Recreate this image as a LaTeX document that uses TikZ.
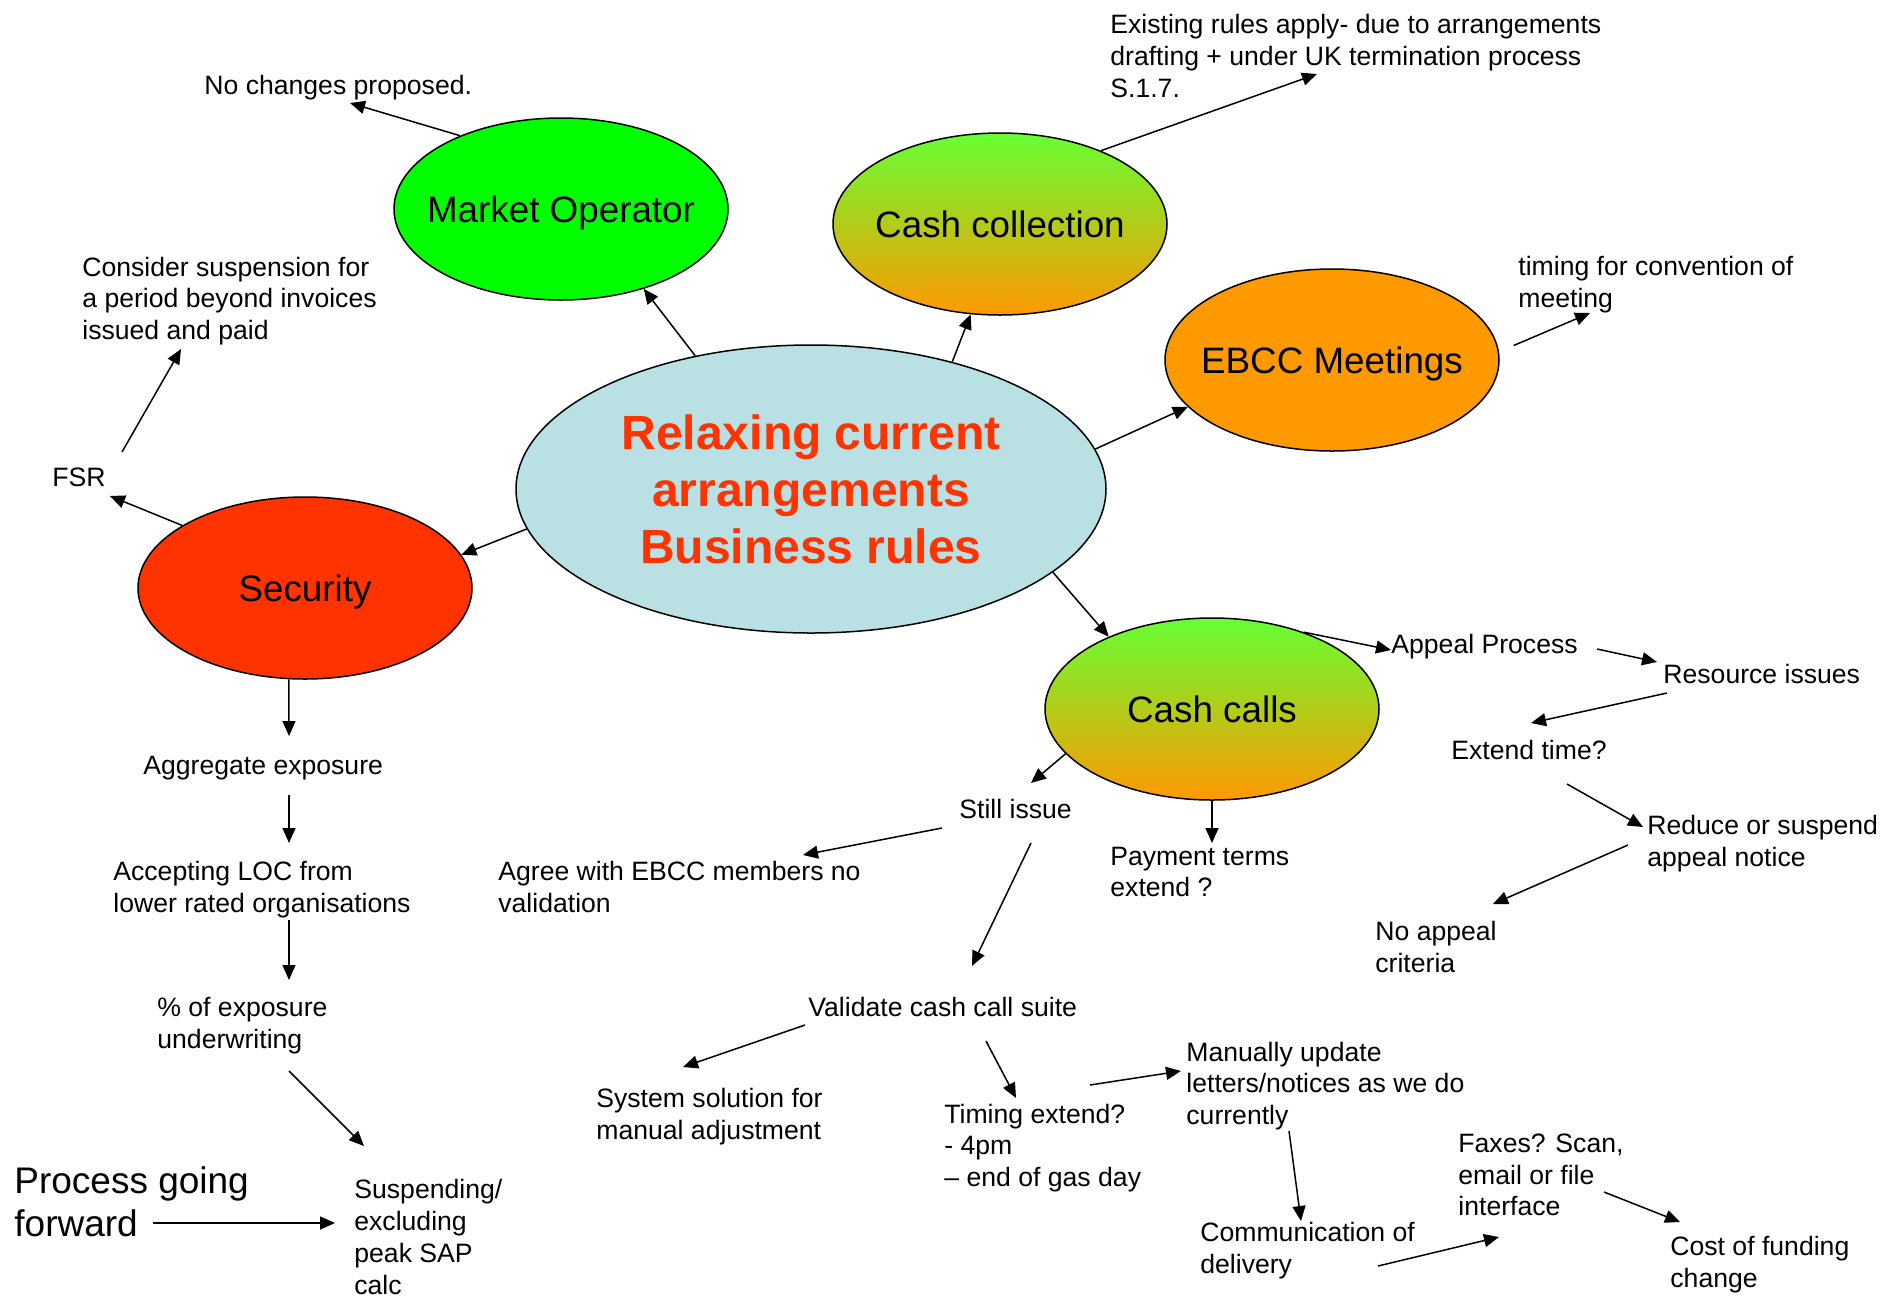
\documentclass[tikz,border=0pt]{standalone}
\usepackage{fontspec}
\setmainfont{Liberation Sans}
\usetikzlibrary{positioning,arrows.meta,shapes.geometric}
\definecolor{topgreen}{HTML}{66FF33}
\definecolor{amber}{HTML}{FF9900}
\definecolor{brightgreen}{HTML}{00FF00}
\definecolor{flame}{HTML}{FF3300}
\definecolor{paleblue}{HTML}{B9E0E3}
\tikzset{
  bubble/.style={ellipse, draw=black, line width=0.75pt, minimum width=167pt,
    minimum height=91pt, inner xsep=-15pt, inner ysep=0pt, text depth=0pt,
    font=\fontsize{18.4}{22}\selectfont},
  blend/.style={top color=topgreen, bottom color=amber},
  note/.style={anchor=west, inner sep=0pt, align=left,
    font=\fontsize{13.3}{15.9}\selectfont},
  arr/.style={-{Triangle[length=7.5pt,width=6.5pt]}, line width=0.75pt},
}
\begin{document}
\begin{tikzpicture}[x=0.5pt,y=-0.5pt]
      \useasboundingbox (0,0) rectangle (1880,1297);
      \node[bubble, fill=paleblue, minimum width=295pt, minimum height=144pt, inner sep=0pt,
        text depth=, font=\fontsize{24}{28.5}\selectfont\bfseries, text=flame, align=center]
        (hub) at (811,489) {Relaxing current\\arrangements\\Business rules};
      \node[bubble, fill=brightgreen] (market) at (561,209) {Market Operator};
      \node[bubble, blend] (cashcoll) at (1000,224) {Cash collection};
      \node[bubble, fill=amber] (ebcc) at (1332,360) {EBCC Meetings};
      \node[bubble, fill=flame] (security) at (305,588) {Security};
      \node[bubble, blend] (cashcalls) at (1212,709) {Cash calls};

      \node[note] (nochange) at (204,88) {No changes proposed.};
      \node[note] (existing) at (1110,56) {Existing rules apply- due to arrangements\\drafting + under UK termination process\\S.1.7.};
      \node[note] (suspend) at (82,301) {Consider suspension for\\a period beyond invoices\\issued and paid};
      \node[note] (timing) at (1518,285) {timing for convention of\\meeting};
      \node[note] (fsr) at (52,477) {FSR};
      \node[note] (appeal) at (1391,647) {Appeal Process};
      \node[note] (resource) at (1663,674) {Resource issues};
      \node[note] (extend) at (1451,750) {Extend time?};
      \node[note] (reduce) at (1647,844) {Reduce or suspend\\appeal notice};
      \node[note] (noappeal) at (1375,947) {No appeal\\criteria};
      \node[note] (aggregate) at (143,768) {Aggregate exposure};
      \node[note] (loc) at (113,890) {Accepting LOC from\\lower rated organisations};
      \node[note] (percent) at (157,1026) {\% of exposure\\underwriting};
      \node[note] (sap) at (354,1237) {Suspending/\\excluding\\peak SAP\\calc};
      \node[note, font=\fontsize{18.5}{21.6}\selectfont] (forward) at (14,1202) {Process going\\forward};
      \node[note] (stillissue) at (959,809) {Still issue};
      \node[note] (agree) at (498,887) {Agree with EBCC members no\\validation};
      \node[note] (payment) at (1110,872) {Payment terms\\extend ?};
      \node[note] (validate) at (808,1007) {Validate cash call suite};
      \node[note] (system) at (596,1117) {System solution for\\manual adjustment};
      \node[note] (timeext) at (944,1148) {Timing extend?\\- 4pm\\– end of gas day};
      \node[note] (manual) at (1186,1086) {Manually update\\letters/notices as we do\\currently};
      \node[note] (comms) at (1200,1251) {Communication of\\delivery};
      \node[note] (faxes) at (1458,1175) {Faxes? Scan,\\email or file\\interface};
      \node[note] (cost) at (1670,1265) {Cost of funding\\change};

      \draw[arr] (hub.131) -- (market.-44);
      \draw[arr] (hub.42) -- (cashcoll.-108);
      \draw[arr] (hub.8) -- (ebcc.198);
      \draw[arr] (hub.188) -- (security.12);
      \draw[arr] (hub.-19) -- (cashcalls.145);
      \draw[arr] (market.144) -- ([shift={(146,15)}]nochange.west);
      \draw[arr] (cashcoll.36) -- ([shift={(207,18)}]existing.west);
      \draw[arr] ([shift={(16,0)}]ebcc.5) -- ([shift={(72,28)}]timing.west);
      \draw[arr] (security.153) -- ([shift={(58,19)}]fsr.west);
      \draw[arr] ([shift={(70,-25)}]fsr.west) -- ([shift={(99,48)}]suspend.west);
      \draw[arr] (security.-100) -- ([shift={(146,-32)}]aggregate.west);
      \draw[arr] ([shift={(146,27)}]aggregate.west) -- ([shift={(176,-47)}]loc.west);
      \draw[arr] ([shift={(176,30)}]loc.west) -- ([shift={(132,-46)}]percent.west);
      \draw[arr] ([shift={(132,45)}]percent.west) -- ([shift={(10,-91)}]sap.west);
      \draw[arr] ([shift={(139,21)}]forward.west) -- ([shift={(-19,-14)}]sap.west);
      \draw[arr] (cashcalls.40) -- ([yshift=-1.5pt]appeal.west);
      \draw[arr] ([shift={(206,2)}]appeal.west) -- ([shift={(-6,-12)}]resource.west);
      \draw[arr] ([shift={(4,19)}]resource.west) -- ([shift={(80,-27)}]extend.west);
      \draw[arr] ([shift={(116,34)}]extend.west) -- ([shift={(-4,-17)}]reduce.west);
      \draw[arr] ([shift={(-19,1)}]reduce.west) -- ([shift={(118,-43)}]noappeal.west);
      \draw[arr] (cashcalls.197) -- ([shift={(72,-26)}]stillissue.west);
      \draw[arr] (cashcalls.south) -- ([shift={(102,-29)}]payment.west);
      \draw[arr] ([shift={(-17,19)}]stillissue.west) -- ([shift={(305,-32)}]agree.west);
      \draw[arr] ([shift={(72,34)}]stillissue.west) -- ([shift={(164,-41)}]validate.west);
      \draw[arr] ([shift={(-3,18)}]validate.west) -- ([shift={(87,-50)}]system.west);
      \draw[arr] ([shift={(178,34)}]validate.west) -- ([shift={(72,-50)}]timeext.west);
      \draw[arr] ([shift={(146,-63)}]timeext.west) -- ([shift={(-5,-15)}]manual.west);
      \draw[arr] ([shift={(103,45)}]manual.west) -- ([shift={(101,-30)}]comms.west);
      \draw[arr] ([shift={(178,15)}]comms.west) -- ([shift={(41,62)}]faxes.west);
      \draw[arr] ([shift={(146,17)}]faxes.west) -- ([shift={(10,-43)}]cost.west);
    \end{tikzpicture}
\end{document}
